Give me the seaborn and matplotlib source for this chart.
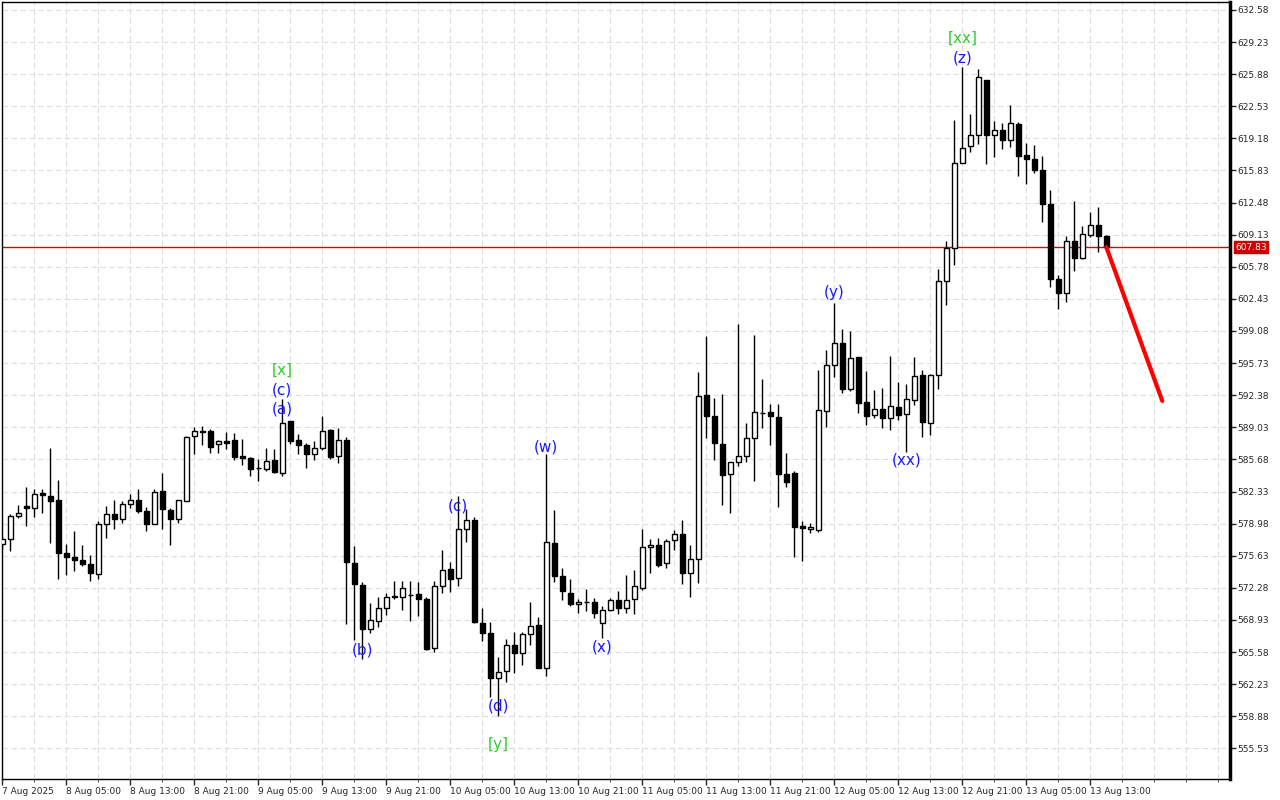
import numpy as np
import pandas as pd
import matplotlib
matplotlib.use("Agg")
import matplotlib.pyplot as plt
from matplotlib.ticker import FixedLocator, MultipleLocator
import seaborn as sns

# hourly bars, 7 Aug 2025 21:00 .. 13 Aug 2025 15:00
opens = [576.85, 577.37, 579.75, 580.86, 580.62, 582.22, 581.91, 581.49, 575.94, 575.52,
         575.21, 574.79, 573.71, 578.94, 580.00, 579.47, 581.04, 581.49, 580.34, 578.94,
         582.43, 580.41, 579.47, 581.39, 588.16, 588.68, 588.61, 587.32, 587.56, 587.67,
         585.99, 585.85, 584.81, 584.67, 585.64, 584.28, 589.66, 587.67, 587.21, 586.27,
         586.90, 588.72, 586.03, 587.74, 574.86, 572.56, 567.95, 568.82, 570.15, 571.34,
         571.37, 571.58, 571.62, 571.09, 565.96, 572.42, 574.27, 573.33, 578.42, 579.36,
         568.65, 567.53, 562.89, 563.59, 566.28, 565.51, 567.43, 568.37, 563.94, 576.96,
         573.47, 571.79, 570.57, 570.85, 570.85, 568.58, 570.01, 571.06, 570.18, 571.16,
         572.28, 576.50, 576.71, 574.82, 577.23, 577.86, 573.78, 575.24, 592.41, 590.18,
         587.28, 584.14, 585.36, 585.99, 587.88, 590.53, 590.63, 590.08, 584.14, 584.25,
         578.73, 578.45, 578.30, 590.77, 595.52, 597.79, 593.04, 596.35, 591.64, 590.35,
         590.98, 590.00, 591.19, 590.46, 591.92, 594.53, 589.48, 594.53, 604.31, 607.73,
         616.63, 618.34, 619.56, 625.25, 619.56, 620.02, 619.04, 620.68, 617.43, 616.98,
         615.83, 612.37, 604.52, 603.02, 608.50, 606.69, 609.13, 610.18, 609.02]
highs = [577.70, 579.99, 580.97, 582.75, 582.64, 582.64, 586.83, 583.48, 576.88, 578.24,
         576.78, 575.66, 579.29, 580.86, 581.49, 581.39, 582.02, 582.54, 580.76, 582.54,
         584.21, 580.58, 581.49, 588.10, 589.03, 589.13, 588.89, 587.74, 588.54, 588.47,
         587.84, 585.90, 585.68, 586.90, 586.80, 591.96, 589.70, 588.37, 587.42, 587.56,
         590.18, 588.82, 588.99, 588.02, 576.68, 572.84, 570.67, 571.27, 571.72, 572.94,
         572.94, 573.01, 572.84, 571.27, 573.01, 576.26, 575.00, 581.81, 580.51, 579.71,
         570.22, 568.72, 565.05, 566.90, 567.67, 567.67, 570.85, 569.28, 586.20, 580.45,
         574.34, 573.19, 571.16, 572.14, 571.20, 570.39, 571.23, 571.93, 573.57, 574.13,
         578.42, 577.34, 577.44, 577.34, 578.31, 579.36, 576.71, 594.75, 598.52, 592.10,
         592.52, 585.40, 599.85, 589.48, 598.63, 594.09, 591.47, 591.47, 586.34, 584.49,
         579.26, 579.00, 595.06, 597.09, 602.04, 599.32, 599.08, 596.40, 594.89, 592.97,
         593.14, 596.46, 593.74, 593.60, 596.35, 595.06, 594.60, 605.53, 608.50, 621.06,
         626.58, 621.76, 626.37, 625.30, 620.96, 620.78, 622.67, 620.89, 618.66, 618.48,
         617.33, 613.77, 604.94, 608.95, 612.62, 610.00, 611.47, 612.00, 609.05]
lows = [576.30, 576.15, 579.57, 578.70, 579.71, 580.06, 576.92, 573.25, 573.57, 573.99,
        574.55, 573.04, 573.15, 577.44, 578.39, 579.01, 580.65, 580.06, 578.18, 578.90,
        578.39, 576.71, 579.01, 581.30, 586.24, 587.18, 586.34, 586.34, 586.80, 585.57,
        585.12, 583.93, 583.45, 584.46, 584.30, 583.93, 587.32, 586.27, 584.77, 585.57,
        586.62, 585.75, 585.33, 568.47, 566.80, 564.81, 567.53, 568.23, 569.42, 571.09,
        569.94, 568.82, 569.35, 565.79, 565.58, 571.69, 571.89, 572.42, 577.02, 568.58,
        566.73, 560.90, 558.88, 562.47, 563.34, 564.18, 566.28, 563.87, 563.07, 572.84,
        570.99, 570.39, 569.63, 569.87, 569.17, 567.01, 569.90, 569.50, 569.60, 569.50,
        572.10, 573.85, 574.48, 574.37, 576.22, 572.70, 571.33, 572.80, 587.88, 585.64,
        580.90, 580.13, 584.95, 585.36, 583.38, 588.96, 587.18, 580.76, 582.85, 575.52,
        575.07, 578.00, 578.10, 589.06, 594.30, 592.62, 592.79, 590.53, 589.30, 590.00,
        588.96, 588.78, 589.83, 586.44, 591.40, 588.01, 588.26, 593.07, 601.76, 605.95,
        616.60, 617.75, 618.62, 616.53, 617.22, 618.10, 618.31, 615.27, 614.43, 615.58,
        610.45, 603.65, 601.35, 602.08, 605.29, 606.60, 608.88, 607.31, 607.70]
closes = [577.37, 579.78, 580.09, 580.58, 582.08, 581.94, 581.32, 575.87, 575.45, 575.21,
          574.72, 573.78, 578.94, 580.00, 579.43, 581.04, 581.49, 580.27, 578.91, 582.33,
          580.48, 579.47, 581.49, 588.05, 588.68, 588.54, 586.97, 587.56, 587.39, 585.92,
          585.85, 584.67, 584.74, 585.54, 584.35, 589.52, 587.56, 587.18, 586.27, 586.90,
          588.65, 585.92, 587.74, 574.93, 572.66, 567.95, 568.93, 570.22, 571.27, 571.44,
          572.24, 571.55, 571.09, 565.86, 572.45, 574.13, 573.15, 578.42, 579.36, 568.72,
          567.53, 562.89, 563.45, 566.28, 565.51, 567.43, 568.27, 563.94, 577.06, 573.47,
          571.96, 570.57, 570.85, 570.82, 569.63, 569.98, 571.06, 570.18, 571.06, 572.42,
          576.50, 576.71, 574.65, 577.16, 577.86, 573.78, 575.24, 592.27, 590.18, 587.39,
          584.04, 585.36, 585.99, 587.88, 590.63, 590.52, 590.18, 584.14, 583.27, 578.66,
          578.49, 578.60, 590.88, 595.52, 597.79, 593.04, 596.21, 591.57, 590.25, 590.98,
          590.00, 591.29, 590.35, 592.03, 594.43, 589.58, 594.53, 604.31, 607.73, 616.60,
          618.20, 619.56, 625.60, 619.56, 620.09, 619.04, 620.75, 617.36, 617.05, 615.93,
          612.34, 604.52, 603.02, 608.50, 606.69, 609.23, 610.18, 609.02, 607.83]

current_price = 607.83
forecast_bar = [138, 145]
forecast_price = [607.83, 591.78]

price_ticks = [632.58, 629.23, 625.88, 622.53, 619.18, 615.83, 612.48, 609.13, 605.78,
               602.43, 599.08, 595.73, 592.38, 589.03, 585.68, 582.33, 578.98, 575.63,
               572.28, 568.93, 565.58, 562.23, 558.88, 555.53]
time_tick_bars = [0, 8, 16, 24, 32, 40, 48, 56, 64, 72, 80, 88, 96, 104, 112, 120, 128, 136]
time_tick_labels = ["7 Aug 2025", "8 Aug 05:00", "8 Aug 13:00", "8 Aug 21:00", "9 Aug 05:00",
                    "9 Aug 13:00", "9 Aug 21:00", "10 Aug 05:00", "10 Aug 13:00",
                    "10 Aug 21:00", "11 Aug 05:00", "11 Aug 13:00", "11 Aug 21:00",
                    "12 Aug 05:00", "12 Aug 13:00", "12 Aug 21:00", "13 Aug 05:00",
                    "13 Aug 13:00"]

# wave labels: text, bar, price, colour
wave_text = ["[xx]", "(z)", "(y)", "(xx)", "[x]", "(c)", "(a)", "(w)", "(c)", "(b)", "(d)", "[y]", "(x)"]
wave_bar = [120, 120, 104, 113, 35, 35, 35, 68, 57, 45, 62, 62, 75]
wave_price = [629.66, 627.57, 603.05, 585.62, 595.01, 592.92, 590.94, 586.98, 580.82,
              565.79, 559.95, 555.88, 566.10]
wave_green = [True, False, False, False, True, False, False, False, False, False, False, True, False]

sns.set_style("white")
plt.rcParams['font.family'] = ['DejaVu Sans']

fig = plt.figure(figsize=(12.8, 8), dpi=100)
ax = fig.add_axes([2 / 1280, 21 / 800, 1228 / 1280, 777 / 800])

df = pd.DataFrame({"bar": np.arange(len(opens)), "open": opens, "high": highs,
                   "low": lows, "close": closes})
df["bottom"] = df[["open", "close"]].min(axis=1)
df["height"] = (df["close"] - df["open"]).abs()
bull = df[df["close"] >= df["open"]]
bear = df[df["close"] < df["open"]]

ax.vlines(df["bar"], df["low"], df["high"], color="black", lw=1, zorder=2)
ax.bar(bull["bar"], bull["height"], bottom=bull["bottom"], width=0.6,
       facecolor="white", edgecolor="black", lw=1, zorder=3)
ax.bar(bear["bar"], bear["height"], bottom=bear["bottom"], width=0.6,
       facecolor="black", edgecolor="black", lw=1, zorder=3)

ax.axhline(current_price, color="#e00000", lw=1, zorder=1)
sns.lineplot(x=forecast_bar, y=forecast_price, color="#ff0000", lw=3, ax=ax, zorder=4)

for t, b, p, g in zip(wave_text, wave_bar, wave_price, wave_green):
    ax.text(b, p, t, color="#33cc33" if g else "#1a1aff", fontsize=11,
            ha="center", va="center", zorder=5)

ax.set_xlim(-0.04, 153.46)
ax.set_ylim(552.33, 633.41)

ax.yaxis.tick_right()
ax.set_yticks(price_ticks)
ax.set_yticklabels([f"{v:.2f}" for v in price_ticks], fontsize=6.5)
ax.tick_params(axis="y", which="major", right=True, length=4, width=1, pad=1, direction="out")

ax.xaxis.set_major_locator(FixedLocator(time_tick_bars))
ax.set_xticklabels(time_tick_labels, fontsize=6.5, ha="left")
ax.xaxis.set_minor_locator(MultipleLocator(4))
ax.tick_params(axis="x", which="major", bottom=True, length=4, width=1, pad=2, direction="out")
ax.tick_params(axis="x", which="minor", bottom=True, length=2, width=0.6, direction="out")

ax.grid(True, which="both", axis="x", color="#dedede", lw=0.8, ls=(0, (5, 3)))
ax.grid(True, which="major", axis="y", color="#dedede", lw=0.8, ls=(0, (5, 3)))
ax.set_axisbelow(True)

for s in ["left", "top", "bottom"]:
    ax.spines[s].set_color("black")
    ax.spines[s].set_linewidth(1)
ax.spines["right"].set_color("black")
ax.spines["right"].set_linewidth(2.5)

ax.text(1.004, (current_price - 552.33) / (633.41 - 552.33), f"{current_price:.2f}",
        transform=ax.transAxes, fontsize=6.5, color="white", ha="left", va="center",
        bbox=dict(boxstyle="square,pad=0.15", fc="#cc0000", ec="#cc0000"), zorder=6,
        clip_on=False)

ax.set_xlabel("")
ax.set_ylabel("")
fig.savefig("out.png", dpi=100)
